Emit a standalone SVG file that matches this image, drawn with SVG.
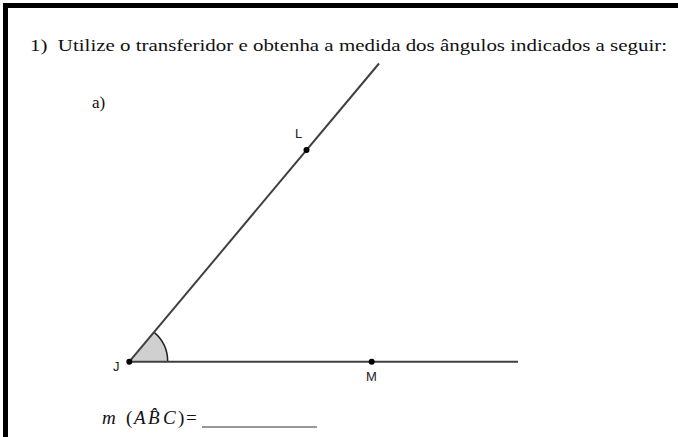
<svg xmlns="http://www.w3.org/2000/svg" width="678" height="437" viewBox="0 0 678 437">
<style>
.serif{font-family:"Liberation Serif","Times New Roman","DejaVu Serif",serif;fill:#111;}
.lbl{font-family:"Liberation Sans",Arial,sans-serif;font-size:13px;fill:#222;}
.ln{stroke:#404040;stroke-width:2;fill:none;stroke-linecap:butt;}
.pt{fill:#000;}
</style>
<rect x="0" y="0" width="678" height="437" fill="#fff"/>
<rect x="3" y="3" width="675" height="5" fill="#000"/>
<rect x="3" y="3" width="5" height="434" fill="#000"/>
<text class="serif" x="30" y="51" font-size="17" textLength="637" lengthAdjust="spacingAndGlyphs" xml:space="preserve">1)  Utilize o transferidor e obtenha a medida dos ângulos indicados a seguir:</text>
<text class="serif" x="92" y="108" font-size="17">a)</text>
<g id="angle">
<path d="M129.3,361.7 L167.7,361.7 A38.4,38.4 0 0 0 153.9,332.2 Z" fill="#d0d0d0" stroke="none"/>
<path d="M167.7,361.7 A38.4,38.4 0 0 0 153.9,332.2" fill="none" stroke="#222" stroke-width="1.5"/>
</g>
<g id="connectors">
<line class="ln" x1="129.3" y1="361.7" x2="379" y2="63.5"/>
<line class="ln" x1="129.3" y1="361.7" x2="518" y2="361.7"/>
</g>
<g id="J"><circle class="pt" cx="129.3" cy="361.7" r="3"/><text class="lbl" x="113" y="371">J</text></g>
<g id="L"><circle class="pt" cx="306.5" cy="150" r="3"/><text class="lbl" x="295" y="138">L</text></g>
<g id="M"><circle class="pt" cx="371.7" cy="361.7" r="3"/><text class="lbl" x="366" y="381">M</text></g>
<g class="serif" font-size="19">
<text x="102" y="424" font-style="italic">m</text>
<text x="126" y="424">(</text>
<text x="134" y="424" font-style="italic">A</text>
<text x="148" y="424" font-style="italic">B̂</text>
<text x="163" y="424" font-style="italic">C</text>
<text x="178" y="424">)</text>
<text x="186" y="424">=</text>
</g>
<line x1="202" y1="427" x2="317" y2="427" stroke="#333" stroke-width="1.2"/>
</svg>
